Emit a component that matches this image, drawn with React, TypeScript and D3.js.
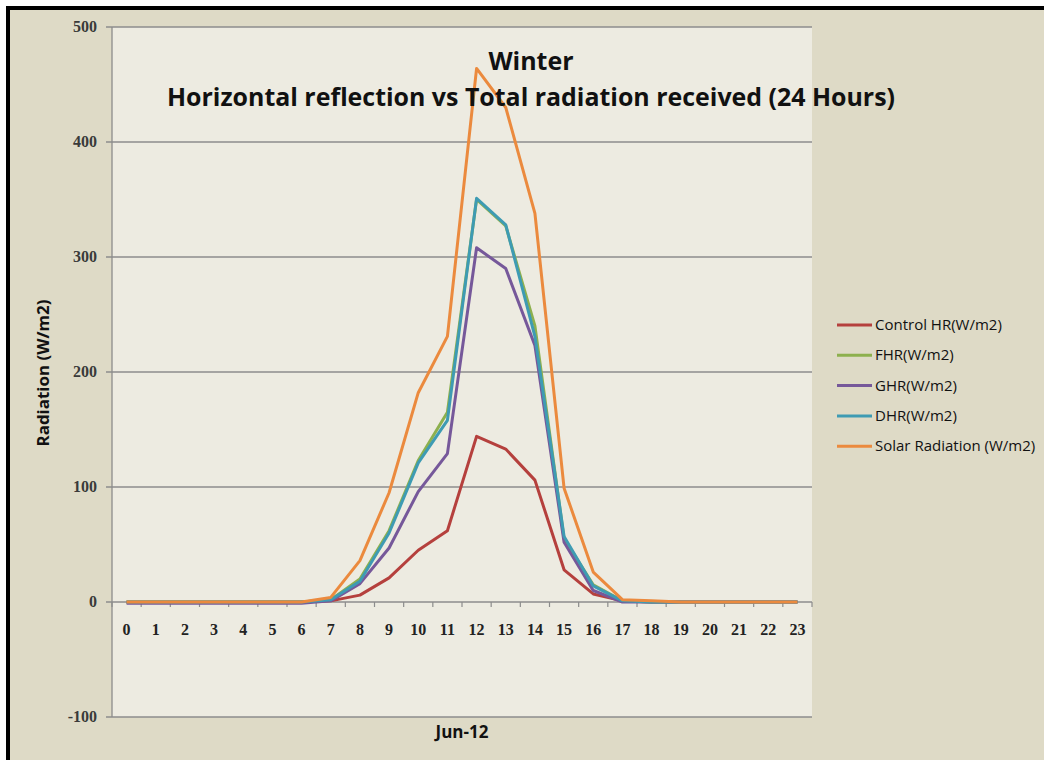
import React from "react";
import * as d3 from "d3";

const hours = ["0","1","2","3","4","5","6","7","8","9","10","11","12","13","14","15","16","17","18","19","20","21","22","23"];
const controlHR = [0,0,0,0,0,0,0,1,6,21,45,62,144,133,106,28,7,1,0,0,0,0,0,0];
const fHR = [0,0,0,0,0,0,0,2,20,62,123,165,350,327,240,55,15,1,0,0,0,0,0,0];
const gHR = [-1,-1,-1,-1,-1,-1,-1,1,16,47,96,129,308,290,223,52,10,0,0,0,0,0,0,0];
const dHR = [0,0,0,0,0,0,0,2,18,60,121,158,351,328,231,57,14,1,0,0,0,0,0,0];
const solar = [0,0,0,0,0,0,0,4,36,95,182,231,464,430,338,99,26,2,1,0,0,0,0,0];
const yTicks = [-100,0,100,200,300,400,500];
const seriesNames = ["Control HR(W/m2)","FHR(W/m2)","GHR(W/m2)","DHR(W/m2)","Solar Radiation (W/m2)"];
const seriesColors = ["#B5403D","#8DB04E","#76589A","#3E9BB3","#EB8A3E"];
const seriesData = [controlHR, fHR, gHR, dHR, solar];

export default function App() {
  const left = 112, right = 812, top = 27, bottom = 717;
  const x = d3.scaleBand<string>().domain(hours).range([left, right]);
  const y = d3.scaleLinear().domain([-100, 500]).range([bottom, top]);
  const cx = (h: string) => (x(h) as number) + x.bandwidth() / 2;
  const line = d3.line<number>().x((_, i) => cx(hours[i])).y((v) => y(v));
  const y0 = y(0);
  const boundaries = d3.range(hours.length + 1).map((i) => left + i * x.bandwidth());
  const serif = "'Liberation Serif', 'DejaVu Serif', serif";
  const sans = "'Open Sans', 'Noto Sans', sans-serif";
  return (
    <svg width={1044} height={760} style={{ position: "absolute", left: 0, top: 0, display: "block" }}>
      <rect x={0} y={0} width={1044} height={760} fill="#ffffff" />
      <rect x={8} y={8} width={1060} height={800} fill="#DEDAC6" stroke="#000" strokeWidth={4} />
      <rect x={left} y={top} width={right - left} height={bottom - top} fill="#EDEBE1" />
      {yTicks.map((t) => (
        <g key={t}>
          <line x1={left - 6} x2={right} y1={y(t)} y2={y(t)} stroke="#8C8C8C" strokeWidth={1.3} />
          <text x={97} y={y(t) + 5} textAnchor="end" fontFamily={serif} fontSize={16} fontWeight="bold" fill="#3a3a3a">{t}</text>
        </g>
      ))}
      <line x1={left} x2={left} y1={top} y2={bottom} stroke="#8C8C8C" strokeWidth={1.3} />
      {boundaries.map((b, i) => (
        <line key={i} x1={b} x2={b} y1={y0} y2={y0 + 5} stroke="#8C8C8C" strokeWidth={1.2} />
      ))}
      {hours.map((h) => (
        <text key={h} x={cx(h)} y={635} textAnchor="middle" fontFamily={serif} fontSize={16} fontWeight="bold" fill="#222">{h}</text>
      ))}
      {seriesData.map((d, i) => (
        <path key={i} d={line(d) as string} fill="none" stroke={seriesColors[i]} strokeWidth={3} strokeLinejoin="round" />
      ))}
      <text x={462} y={738} textAnchor="middle" fontFamily={sans} fontSize={17} fontWeight="bold" fill="#111">Jun-12</text>
      <text transform="translate(49,373) rotate(-90)" textAnchor="middle" fontFamily={sans} fontSize={16} fontWeight="bold" fill="#111" textLength={147} lengthAdjust="spacingAndGlyphs">Radiation (W/m2)</text>
      <text x={531} y={70} textAnchor="middle" fontFamily={sans} fontSize={25} fontWeight="bold" fill="#111">Winter</text>
      <text x={531} y={106} textAnchor="middle" fontFamily={sans} fontSize={25} fontWeight="bold" fill="#111" textLength={728} lengthAdjust="spacingAndGlyphs">Horizontal reflection vs Total radiation received (24 Hours)</text>
      {seriesNames.map((n, i) => (
        <g key={n} transform={`translate(837,${325 + i * 30.3})`}>
          <line x1={0} x2={35} y1={0} y2={0} stroke={seriesColors[i]} strokeWidth={3} />
          <text x={38} y={5} fontFamily={sans} fontSize={15} fill="#111">{n}</text>
        </g>
      ))}
    </svg>
  );
}
